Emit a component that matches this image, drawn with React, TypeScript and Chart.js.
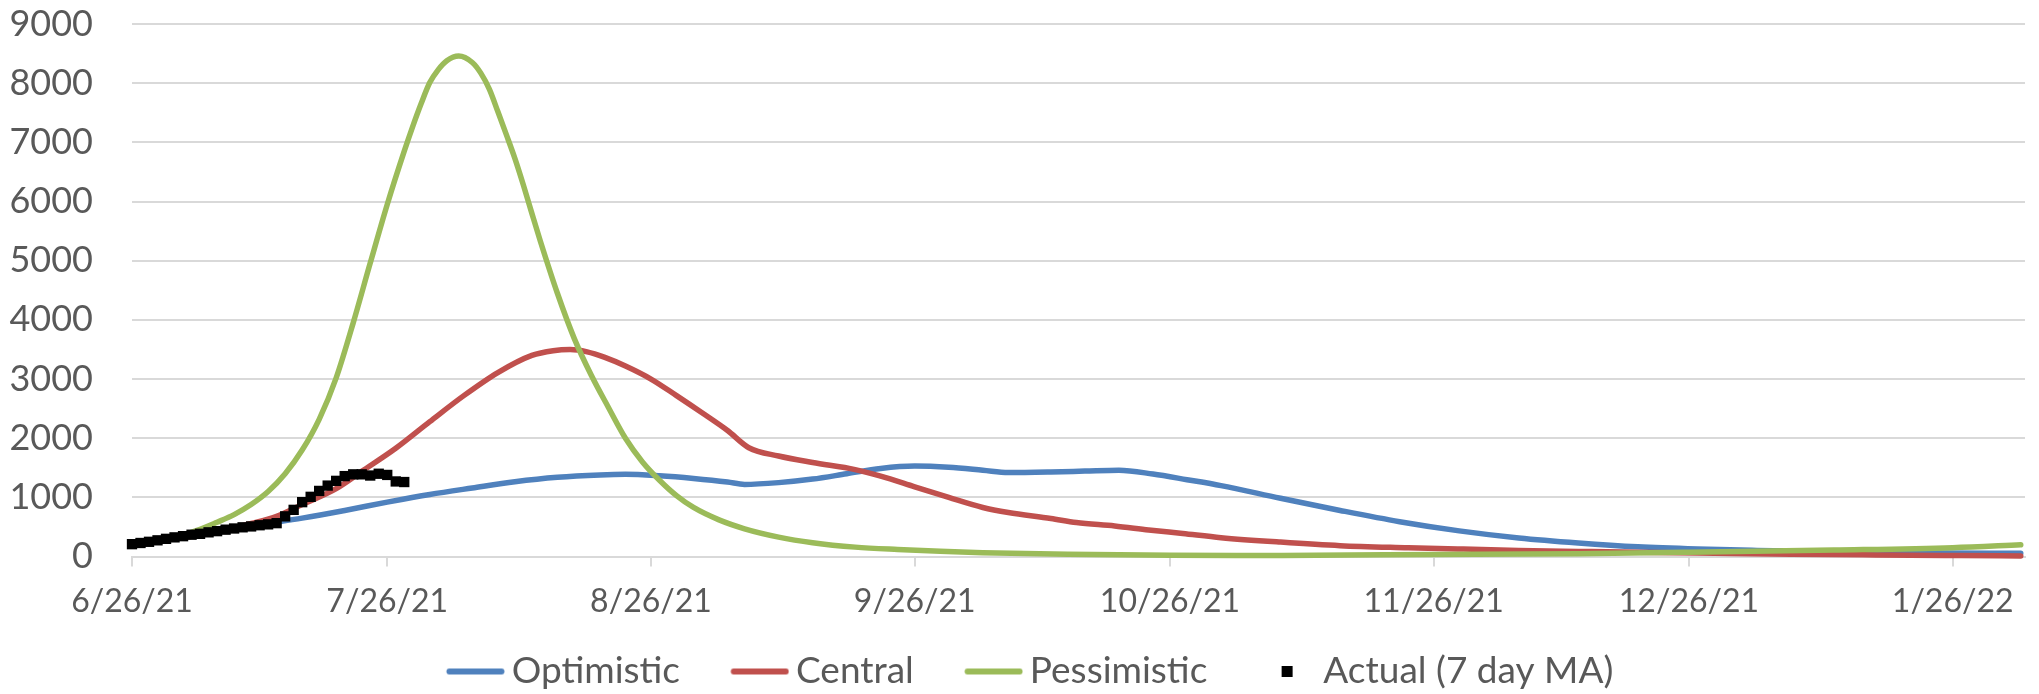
import { useEffect, useRef } from 'react';
import { Chart, registerables } from 'chart.js';

Chart.register(...registerables);

// ---- Axis ----
const tickLabels = ['6/26/21', '7/26/21', '8/26/21', '9/26/21', '10/26/21', '11/26/21', '12/26/21', '1/26/22'];
const tickDays = [0, 30, 61, 92, 122, 153, 183, 214]; // days since 6/26/21
const axisEndDay = 222.5;

// ---- Series (day offset since 6/26/21, value) ----
const optimisticDays = [0, 5, 10, 15, 20, 25, 30, 35, 40, 45, 50, 55, 58, 62, 66, 70, 72, 76, 80, 84, 88, 92, 96, 100, 103, 108, 112, 116, 120, 124, 128, 135, 142, 149, 156, 163, 170, 177, 184, 191, 198, 205, 212, 222];
const optimisticValues = [210, 300, 420, 540, 650, 780, 920, 1050, 1160, 1265, 1340, 1380, 1390, 1365, 1320, 1260, 1220, 1250, 1310, 1400, 1490, 1530, 1510, 1460, 1420, 1430, 1445, 1460, 1395, 1300, 1200, 985, 780, 590, 435, 315, 230, 165, 128, 105, 88, 73, 62, 55];

const centralDays = [0, 5, 10, 14, 17, 20, 24, 27, 31, 35, 39, 43, 47, 49.5, 51.5, 53.5, 55.5, 58, 61, 64, 67, 70, 72.5, 76, 80, 85, 88, 92, 96, 100, 103, 108, 111, 115.5, 119.5, 123.5, 128, 135, 142, 150, 156, 163, 170, 177, 184, 195, 205, 215, 222];
const centralValues = [210, 300, 420, 560, 680, 880, 1150, 1440, 1830, 2280, 2720, 3110, 3400, 3480, 3500, 3460, 3370, 3220, 3000, 2720, 2430, 2130, 1840, 1700, 1590, 1470, 1360, 1180, 1000, 830, 745, 645, 575, 518, 450, 390, 320, 245, 185, 150, 128, 105, 88, 72, 60, 40, 28, 18, 12];

const pessimisticDays = [0, 4, 8, 10, 12, 14, 16, 18, 20, 22, 24, 26, 28, 30, 32, 33, 34, 35, 36, 37, 38.4, 40, 41, 42, 43, 44, 45, 46, 47, 48, 50, 52, 54, 56, 58, 60, 62, 64, 66, 69, 72, 76, 80, 85, 90, 95, 100, 110, 122, 135, 153, 170, 183, 200, 214, 222];
const pessimisticValues = [200, 290, 460, 580, 710, 880, 1100, 1400, 1800, 2320, 3020, 3950, 4960, 5950, 6850, 7270, 7660, 8010, 8230, 8380, 8460, 8350, 8170, 7900, 7520, 7130, 6730, 6280, 5800, 5330, 4450, 3680, 3060, 2520, 2000, 1600, 1290, 1030, 830, 620, 470, 330, 235, 160, 120, 90, 67, 40, 22, 20, 35, 50, 73, 110, 150, 200];

// Actual 7-day moving average, one value per day from 6/26/21
const actualValues = [210, 230, 250, 275, 300, 325, 345, 370, 385, 410, 430, 455, 475, 495, 510, 530, 545, 565, 680, 790, 920, 1010, 1110, 1200, 1280, 1360, 1390, 1390, 1370, 1400, 1380, 1270, 1260];

const seriesNames = ['Optimistic', 'Central', 'Pessimistic', 'Actual (7 day MA)'];
const seriesColors = ['#4F81BD', '#C0504D', '#9BBB59', '#000000'];

const FONT = 'Lato';
const TEXT = '#595959';
const GRID = '#d9d9d9';
const LEGEND_SIZE = 37;
const LEGEND_PAD = 16; // vertical padding used by legend
const ITEM_GAP = 51; // gap from previous text end to next symbol
const SYMBOL_LEN = 58;
const SYMBOL_GAP = 7; // gap between symbol and text

function toPoints(days: number[], values: number[]) {
  return days.map((d, i) => ({ x: d, y: values[i] }));
}

function symbolGeometry() {
  const h = LEGEND_SIZE / 2;
  const boxW = ITEM_GAP - LEGEND_PAD + SYMBOL_GAP + SYMBOL_LEN - h;
  const lineStart = boxW + h - SYMBOL_GAP - SYMBOL_LEN;
  const center = boxW / 2;
  const halfW = Math.max(center - lineStart, lineStart + SYMBOL_LEN - center);
  const imgLeft = center - halfW;
  return { boxW, width: Math.ceil(2 * halfW), start: lineStart - imgLeft };
}

function lineSymbol(color: string) {
  const g0 = symbolGeometry();
  const c = document.createElement('canvas');
  c.width = g0.width;
  c.height = 10;
  const g = c.getContext('2d')!;
  g.strokeStyle = color;
  g.lineWidth = 6;
  g.lineCap = 'round';
  g.beginPath();
  g.moveTo(g0.start + 3, 5);
  g.lineTo(g0.start + SYMBOL_LEN - 3, 5);
  g.stroke();
  return c;
}

function squareSymbol(color: string) {
  const g0 = symbolGeometry();
  const c = document.createElement('canvas');
  c.width = g0.width;
  c.height = 11;
  const g = c.getContext('2d')!;
  g.fillStyle = color;
  const cx = g0.start + SYMBOL_LEN / 2;
  g.fillRect(Math.round(cx - 5.5), 0, 11, 11);
  return c;
}

export default function App() {
  const ref = useRef<HTMLCanvasElement | null>(null);

  useEffect(() => {
    if (!ref.current) return;
    const { boxW } = symbolGeometry();
    const symbols = [
      lineSymbol(seriesColors[0]),
      lineSymbol(seriesColors[1]),
      lineSymbol(seriesColors[2]),
      squareSymbol(seriesColors[3]),
    ];
    const lineDs = (i: number, days: number[], values: number[], order: number) => ({
      label: seriesNames[i],
      data: toPoints(days, values),
      borderColor: seriesColors[i],
      backgroundColor: seriesColors[i],
      borderWidth: 5.5,
      borderCapStyle: 'round' as const,
      borderJoinStyle: 'round' as const,
      pointRadius: 0,
      tension: 0.4,
      cubicInterpolationMode: 'monotone' as const,
      fill: false,
      clip: false as const,
      order,
    });

    const chart = new Chart(ref.current, {
      type: 'line',
      data: {
        datasets: [
          lineDs(0, optimisticDays, optimisticValues, 4),
          lineDs(1, centralDays, centralValues, 3),
          lineDs(2, pessimisticDays, pessimisticValues, 2),
          {
            label: seriesNames[3],
            data: actualValues.map((v, i) => ({ x: i, y: v })),
            showLine: false,
            pointStyle: 'rect',
            pointRadius: 7.3,
            pointBorderWidth: 0,
            pointBackgroundColor: seriesColors[3],
            pointBorderColor: seriesColors[3],
            borderColor: seriesColors[3],
            backgroundColor: seriesColors[3],
            clip: false as const,
            order: 1,
          } as any,
        ],
      },
      options: {
        responsive: false,
        animation: false,
        events: [],
        layout: { padding: { left: 0, right: 14, top: 24, bottom: -6 } },
        scales: {
          x: {
            type: 'linear',
            min: 0,
            max: axisEndDay,
            afterBuildTicks: (scale: any) => {
              scale.ticks = tickDays.map((v) => ({ value: v }));
            },
            ticks: {
              autoSkip: false,
              maxRotation: 0,
              minRotation: 0,
              padding: 16,
              color: TEXT,
              font: { family: FONT, size: 32 },
              callback: (_v: any, index: number) => tickLabels[index],
            },
            grid: {
              drawOnChartArea: false,
              drawTicks: true,
              tickLength: 10,
              color: GRID,
              lineWidth: 2,
            },
            border: { display: true, color: GRID, width: 2 },
          },
          y: {
            min: 0,
            max: 9000,
            afterFit: (scale: any) => {
              scale.width = 132;
            },
            ticks: {
              stepSize: 1000,
              padding: 0,
              color: TEXT,
              font: { family: FONT, size: 36 },
              callback: (v: any) => String(v),
            },
            grid: { color: GRID, lineWidth: 2, drawTicks: true, tickLength: 39, tickColor: 'rgba(0,0,0,0)' },
            border: { display: false },
          },
        },
        plugins: {
          tooltip: { enabled: false },
          legend: {
            position: 'bottom',
            labels: {
              usePointStyle: true,
              pointStyleWidth: boxW,
              padding: LEGEND_PAD,
              color: TEXT,
              font: { family: FONT, size: LEGEND_SIZE },
              generateLabels: (c: any) => {
                const items = (Chart.defaults.plugins.legend.labels as any).generateLabels(c);
                items.sort((a: any, b: any) => a.datasetIndex - b.datasetIndex);
                return items.map((it: any) => ({ ...it, pointStyle: symbols[it.datasetIndex], fontColor: TEXT }));
              },
            },
          },
        },
      },
    } as any);
    return () => chart.destroy();
  }, []);

  return (
    <div style={{ position: 'fixed', left: 0, top: 0, width: 2039, height: 694, background: '#fff' }}>
      <canvas ref={ref} width={2039} height={694} style={{ display: 'block' }} />
    </div>
  );
}
